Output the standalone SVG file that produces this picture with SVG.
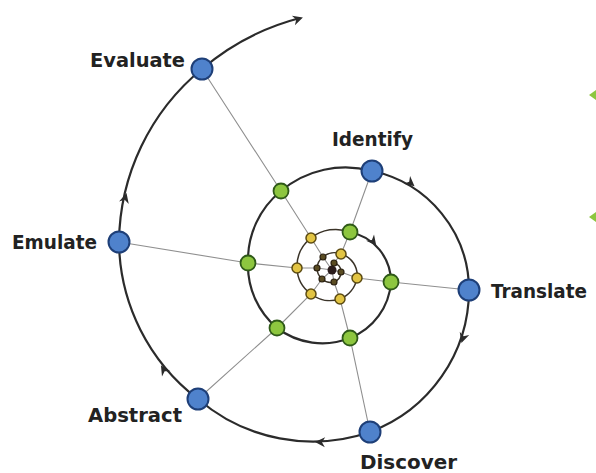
<svg xmlns="http://www.w3.org/2000/svg" xmlns:xlink="http://www.w3.org/1999/xlink" width="596" height="473" viewBox="0 0 596 473">
<defs>
<style>
.spoke{fill:none;stroke:#8f8f8f;stroke-width:1.1}
.sp{fill:none;stroke:#2b2b2b;stroke-width:2.2}
.spi{fill:none;stroke:#3a3328;stroke-width:1.5}
.blue{fill:#4f82cc;stroke:#1e3f78;stroke-width:2}
.green{fill:#8dc63f;stroke:#2f5a18;stroke-width:1.8}
.yel{fill:#e2c443;stroke:#5c4b12;stroke-width:1.5}
.tiny{fill:#5a4c22;stroke:#2a2010;stroke-width:1.2}
.lbl{font-family:"DejaVu Sans","Liberation Sans",sans-serif;font-weight:bold;font-size:19px;fill:#222}
.bul{fill:#8dc63f}
</style>
<path id="ah" d="M-8,-5 L2,0 L-8,5 L-5,0 Z" fill="#2b2b2b"/>
</defs>
<rect width="596" height="473" fill="#ffffff"/>
<g id="connectors">
<polyline class="spoke" points="372,171 350,232 341,254 334,263 332,270"/>
<polyline class="spoke" points="469,290 391,282 357,278 341,272 332,270"/>
<polyline class="spoke" points="370,432 350,338 340,299 334,282 332,270"/>
<polyline class="spoke" points="198,399 277,328 311,294 322,279 332,270"/>
<polyline class="spoke" points="119,242 248,263 297,268 317,268 332,270"/>
<polyline class="spoke" points="202,69 281,191 311,238 323,257 332,270"/>
<path class="spi" d="M334,263 A8.5,8.5 0 0 1 341,272 A11,11 0 0 1 334,282 A13,13 0 0 1 322,279 A14.5,14.5 0 0 1 317,268 A15.5,15.5 0 0 1 323,257 A17,17 0 0 1 341,254 A22,22 0 0 1 357,278 A28,28 0 0 1 340,299 A31,31 0 0 1 311,294 A33.5,33.5 0 0 1 297,268 A36.5,36.5 0 0 1 311,238 A40,40 0 0 1 350,232"/>
<path class="sp" d="M350,232 A51,51 0 0 1 391,282 A65,65 0 0 1 350,338 A75,75 0 0 1 277,328 A82,82 0 0 1 248,263 A89,89 0 0 1 281,191 A100,100 0 0 1 372,171 A122,122 0 0 1 469,290 A152,152 0 0 1 370,432 A176,176 0 0 1 198,399 A200,200 0 0 1 119,242 A227,227 0 0 1 202,69 A247,247 0 0 1 300,18"/>
<use xlink:href="#ah" href="#ah" transform="translate(301,18) rotate(-18)"/>
<use xlink:href="#ah" href="#ah" transform="translate(126,195) rotate(-75)"/>
<use xlink:href="#ah" href="#ah" transform="translate(413,185) rotate(40)"/>
<use xlink:href="#ah" href="#ah" transform="translate(462,341) rotate(108)"/>
<use xlink:href="#ah" href="#ah" transform="translate(317,442) rotate(182)"/>
<use xlink:href="#ah" href="#ah" transform="translate(162,367) rotate(238)"/>
<use xlink:href="#ah" href="#ah" transform="translate(375,244) rotate(52)"/>
</g>
<g id="center"><circle cx="332" cy="270" r="4.5" fill="#2a1c1c"/></g>
<g id="tiny-nodes">
<circle class="tiny" cx="334" cy="263" r="3"/>
<circle class="tiny" cx="341" cy="272" r="3"/>
<circle class="tiny" cx="334" cy="282" r="3"/>
<circle class="tiny" cx="322" cy="279" r="3"/>
<circle class="tiny" cx="317" cy="268" r="3"/>
<circle class="tiny" cx="323" cy="257" r="3"/>
</g>
<g id="yellow-nodes">
<circle class="yel" cx="341" cy="254" r="5"/>
<circle class="yel" cx="357" cy="278" r="5"/>
<circle class="yel" cx="340" cy="299" r="5"/>
<circle class="yel" cx="311" cy="294" r="5"/>
<circle class="yel" cx="297" cy="268" r="5"/>
<circle class="yel" cx="311" cy="238" r="5"/>
</g>
<g id="green-nodes">
<circle class="green" cx="350" cy="232" r="7.5"/>
<circle class="green" cx="391" cy="282" r="7.5"/>
<circle class="green" cx="350" cy="338" r="7.5"/>
<circle class="green" cx="277" cy="328" r="7.5"/>
<circle class="green" cx="248" cy="263" r="7.5"/>
<circle class="green" cx="281" cy="191" r="7.5"/>
</g>
<g id="identify"><circle class="blue" cx="372" cy="171" r="10.5"/><text class="lbl" x="332" y="146" textLength="81" lengthAdjust="spacingAndGlyphs">Identify</text></g>
<g id="translate"><circle class="blue" cx="469" cy="290" r="10.5"/><text class="lbl" x="491" y="298" textLength="96" lengthAdjust="spacingAndGlyphs">Translate</text></g>
<g id="discover"><circle class="blue" cx="370" cy="432" r="10.5"/><text class="lbl" x="360" y="469" textLength="97" lengthAdjust="spacingAndGlyphs">Discover</text></g>
<g id="abstract"><circle class="blue" cx="198" cy="399" r="10.5"/><text class="lbl" x="88" y="422" textLength="94" lengthAdjust="spacingAndGlyphs">Abstract</text></g>
<g id="emulate"><circle class="blue" cx="119" cy="242" r="10.5"/><text class="lbl" x="12" y="249" textLength="85" lengthAdjust="spacingAndGlyphs">Emulate</text></g>
<g id="evaluate"><circle class="blue" cx="202" cy="69" r="10.5"/><text class="lbl" x="90" y="67" textLength="95" lengthAdjust="spacingAndGlyphs">Evaluate</text></g>
<g id="bullets">
<polygon class="bul" points="589,95 596,90 596,100"/>
<polygon class="bul" points="589,217 596,212 596,222"/>
</g>
</svg>
